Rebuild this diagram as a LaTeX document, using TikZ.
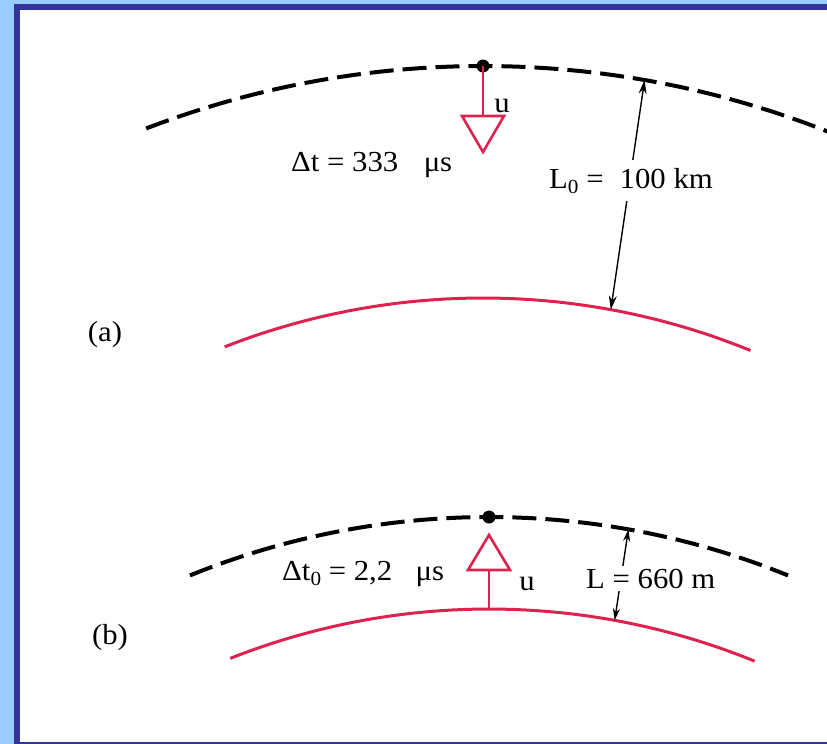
\documentclass[tikz,border=0pt]{standalone}
\usepackage{fontspec}
\setmainfont{Liberation Serif}
\usetikzlibrary{arrows.meta}
\definecolor{bgblue}{HTML}{99CCFF}
\definecolor{frameblue}{HTML}{333399}
\definecolor{velred}{HTML}{DD2250}
\newcommand\wtxt[1]{\scalebox{1.06}[1]{#1}}
\newcommand\subnull{\raisebox{-5pt}{\fontsize{20}{20}\selectfont 0}}
\begin{document}
\begin{tikzpicture}[x=1pt,y=-1pt,
  lbl/.style={font=\fontsize{29}{32}\selectfont, inner sep=0pt},
  worldline/.style={line width=4pt, dash pattern=on 24pt off 9pt},
  surf/.style={velred, line width=3pt},
  vel/.style={velred, line width=2.6pt},
  lenA/.style={line width=1.4pt, {Stealth[length=14pt,width=8pt]}-{Stealth[length=14pt,width=8pt]}},
  lenB/.style={line width=1.4pt, {Stealth[length=12pt,width=7pt]}-{Stealth[length=12pt,width=7pt]}},
  dotpt/.style={circle, fill=black, inner sep=0pt, minimum size=13pt}
]
\useasboundingbox (0,0) rectangle (827,744);
\begin{scope}
\clip (0,0) rectangle (827,744);
\fill[bgblue] (0,0) rectangle (827,744);
\draw[frameblue, line width=6pt, fill=white] (17,7) rectangle (840,745);

% ---------- (a) ----------
\draw[worldline] plot[domain=111:67, samples=150] ({483+940*cos(\x)},{1006-940*sin(\x)});
\draw[surf] plot[domain=111.4:67.8, samples=150] ({483+708*cos(\x)},{1006-708*sin(\x)});
\node[dotpt] (da) at (483,66) {};
\coordinate (ta) at (483,116);
\draw[vel] (da.center) -- (ta);
\draw[vel, line join=miter] (462,116) -- (504,116) -- (483,152) -- cycle;
\node[lbl, anchor=base] (ua) at (502,112) {\wtxt{u}};
\node[lbl, anchor=base west] (dta) at (291,171) {\wtxt{Δt = 333\hspace{24pt}μs}};
\coordinate (ra) at ({483+708*cos(79.6)},{1006-708*sin(79.6)});
\coordinate (wa) at ({483+940*cos(80.1)},{1006-940*sin(80.1)});
\draw[lenA] (ra) -- (wa);
\node[lbl, anchor=base west, fill=white, inner ysep=8pt, inner xsep=1pt] (la) at (548,188) {\wtxt{L\subnull{} = \hspace{8pt}100 km}};
\node[lbl] (pa) at (105,335) {\wtxt{(a)}};

% ---------- (b) ----------
\draw[worldline] plot[domain=112.1:67.9, samples=150] ({489+795*cos(\x)},{1312-795*sin(\x)});
\draw[surf] plot[domain=111.6:67.8, samples=150] ({489+703*cos(\x)},{1312-703*sin(\x)});
\node[dotpt] (db) at (489,517) {};
\coordinate (sb) at (489,609);
\coordinate (tb) at (489,570);
\draw[vel] (sb) -- (tb);
\draw[vel, line join=miter] (468,570) -- (510,570) -- (489,535) -- cycle;
\node[lbl, anchor=base] (ub) at (527,590) {\wtxt{u}};
\node[lbl, anchor=base west] (dtb) at (282,580) {\wtxt{Δt\subnull{} = 2,2\hspace{22pt}μs}};
\coordinate (rb) at ({489+703*cos(79.7)},{1312-703*sin(79.7)});
\coordinate (wb) at ({489+795*cos(79.9)},{1312-795*sin(79.9)});
\draw[lenB] (rb) -- (wb);
\node[lbl, anchor=base west, fill=white, inner ysep=3pt, inner xsep=0pt] (lb) at (586,588) {\wtxt{L = 660 m}};
\node[lbl] (pb) at (110,638) {\wtxt{(b)}};
\end{scope}
\end{tikzpicture}
\end{document}
